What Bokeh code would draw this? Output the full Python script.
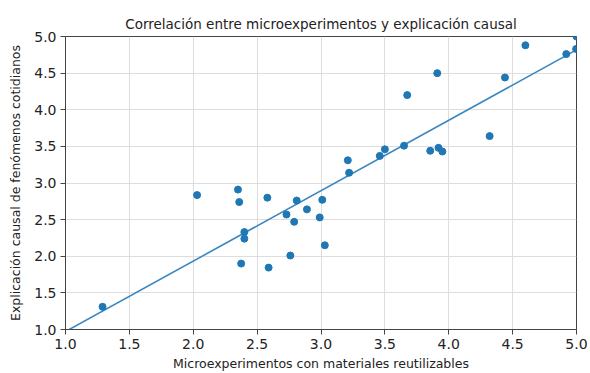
import numpy as np
from bokeh.plotting import figure
from bokeh.models import FixedTicker, ColumnDataSource
from bokeh.embed import file_html
from bokeh.resources import INLINE

micro = [1.29, 2.03, 2.35, 2.36, 2.40, 2.40, 2.375, 2.58, 2.59, 2.73, 2.79, 2.81, 2.76,
         2.89, 2.99, 3.01, 3.03, 3.21, 3.22, 3.46, 3.50, 3.65, 3.675, 3.855, 3.91, 3.92,
         3.95, 4.32, 4.44, 4.60, 4.92, 4.997, 5.0]
causal = [1.31, 2.835, 2.91, 2.74, 2.33, 2.24, 1.90, 2.80, 1.845, 2.57, 2.47, 2.76, 2.01,
          2.64, 2.53, 2.77, 2.15, 3.31, 3.14, 3.37, 3.46, 3.51, 4.20, 3.44, 4.50, 3.48,
          3.43, 3.64, 4.44, 4.88, 4.76, 4.83, 5.0]
ticks = [1.0, 1.5, 2.0, 2.5, 3.0, 3.5, 4.0, 4.5, 5.0]
tick_labels = {t: f"{t:.1f}" for t in ticks}

slope, intercept = np.polyfit(micro, causal, 1)
line_x = [1.0, 5.0]
line_y = [intercept + slope * v for v in line_x]

p = figure(width=590, height=373, output_backend="svg", toolbar_location=None,
           x_range=(1.0, 5.0), y_range=(1.0, 5.0),
           title="Correlación entre microexperimentos y explicación causal",
           min_border_left=65, min_border_right=14, min_border_top=36, min_border_bottom=42)
p.title.align = "center"
p.title.text_font = "DejaVu Sans"
p.title.text_font_size = "13.5px"
p.title.text_font_style = "normal"
p.title.text_color = "#222222"

for ax in (p.xaxis, p.yaxis):
    ax.ticker = FixedTicker(ticks=ticks)
    ax.major_label_overrides = tick_labels
    ax.major_label_text_font = "DejaVu Sans"
    ax.major_label_text_font_size = "14px"
    ax.major_label_text_color = "#222222"
    ax.axis_label_text_font = "DejaVu Sans"
    ax.axis_label_text_font_size = "12.5px"
    ax.axis_label_text_font_style = "normal"
    ax.axis_label_text_color = "#222222"
    ax.axis_line_color = "#444444"
    ax.major_tick_line_color = "#444444"
    ax.major_tick_out = 5
    ax.major_tick_in = 0
    ax.minor_tick_line_color = None

p.xaxis.major_label_standoff = 4
p.xaxis.axis_label_standoff = 4
p.yaxis.major_label_standoff = 4
p.yaxis.axis_label_standoff = 8

p.xaxis.axis_label = "Microexperimentos con materiales reutilizables"
p.yaxis.axis_label = "Explicación causal de fenómenos cotidianos"

p.outline_line_color = "#444444"
p.outline_line_width = 1
p.grid.grid_line_color = "#dddddd"
p.grid.grid_line_width = 1
p.background_fill_color = "white"
p.border_fill_color = "white"

p.line(line_x, line_y, line_color="#3a88c0", line_width=1.6)
src = ColumnDataSource(dict(x=micro, y=causal))
p.scatter("x", "y", source=src, size=7, fill_color="#1f77b4", line_color="#1f77b4")

open("out.html", "w").write(file_html(p, INLINE))
